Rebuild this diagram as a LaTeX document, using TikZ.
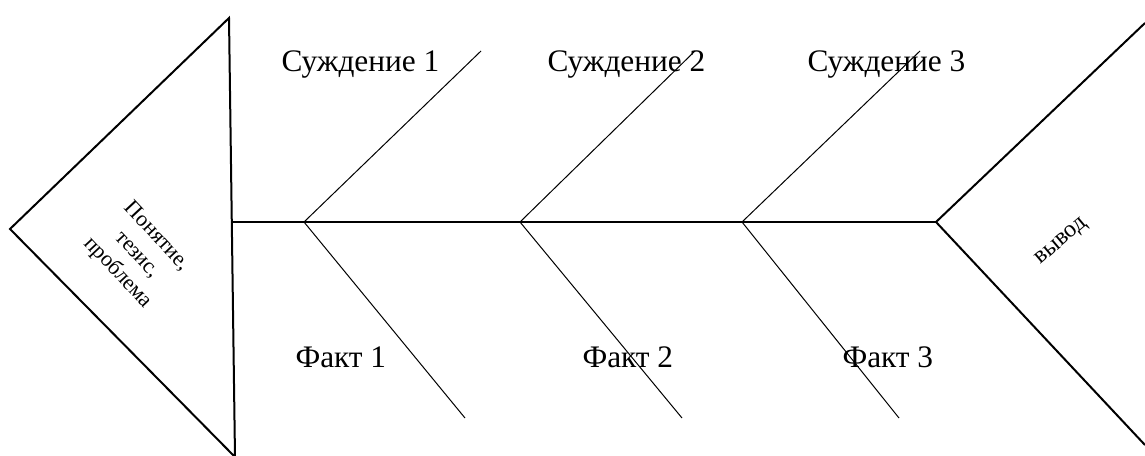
\documentclass[tikz,border=0pt]{standalone}
\usepackage{fontspec}
\setmainfont{Liberation Serif}
\tikzset{every picture/.style={line width=0.75pt}}
\tikzset{
  bone/.style={line width=0.75pt},
  frame/.style={line width=1.5pt},
  boxtext/.style={inner sep=0pt, font=\fontsize{23.5}{27}\selectfont},
  smalltext/.style={inner sep=0pt, align=center, font=\fontsize{16.5}{20}\selectfont}
}
\begin{document}
\begin{tikzpicture}[x=0.75pt,y=0.75pt,yscale=-1,xscale=1]
    \useasboundingbox (0,0) rectangle (1145,456);
    % head and tail points
    \coordinate (head) at (10,229);
    \coordinate (headtop) at (229,18);
    \coordinate (headbot) at (235,457);
    \coordinate (neck) at (232,222);
    \coordinate (tail) at (936,222);
    \coordinate (tailtop) at (1145,23);
    \coordinate (tailbot) at (1145,445);
    % joints on the spine
    \coordinate (j1) at (304,222);
    \coordinate (j2) at (520,222);
    \coordinate (j3) at (742,222);
    % free ends of the bones
    \coordinate (u1) at (481,51);
    \coordinate (u2) at (695,51);
    \coordinate (u3) at (920,51);
    \coordinate (d1) at (465,418);
    \coordinate (d2) at (682,418);
    \coordinate (d3) at (899,418);
    %Shape: Triangle
    \draw [frame]  (head) -- (headtop) -- (headbot) -- cycle ;
    %Straight Lines
    \draw [line width=1pt]  (neck) -- (tail) ;
    %Straight Lines
    \draw [frame]  (tailtop) -- (tail) -- (tailbot) ;
    %Straight Lines
    \draw [bone]  (j1) -- (u1) ;
    %Straight Lines
    \draw [bone]  (j1) -- (d1) ;
    %Straight Lines
    \draw [bone]  (j2) -- (u2) ;
    %Straight Lines
    \draw [bone]  (j2) -- (d2) ;
    %Straight Lines
    \draw [bone]  (j3) -- (u3) ;
    %Straight Lines
    \draw [bone]  (j3) -- (d3) ;
    % Text Node
    \node [boxtext, anchor=base west] (sud1) at (281,72) {Суждение 1};
    % Text Node
    \node [boxtext, anchor=base west] (sud2) at (547,72) {Суждение 2};
    % Text Node
    \node [boxtext, anchor=base west] (sud3) at (807,72) {Суждение 3};
    % Text Node
    \node [boxtext, anchor=base west] (fakt1) at (295,367) {Факт 1};
    % Text Node
    \node [boxtext, anchor=base west] (fakt2) at (582,367) {Факт 2};
    % Text Node
    \node [boxtext, anchor=base west] (fakt3) at (842,367) {Факт 3};
    % Text Node
    \node [smalltext, rotate=-47] (thesis) at (137,255) {Понятие,\\тезис,\\проблема};
    % Text Node
    \node [smalltext, rotate=40, font=\fontsize{18}{20}\selectfont] (vyvod) at (1062,242) {вывод};
\end{tikzpicture}
\end{document}
